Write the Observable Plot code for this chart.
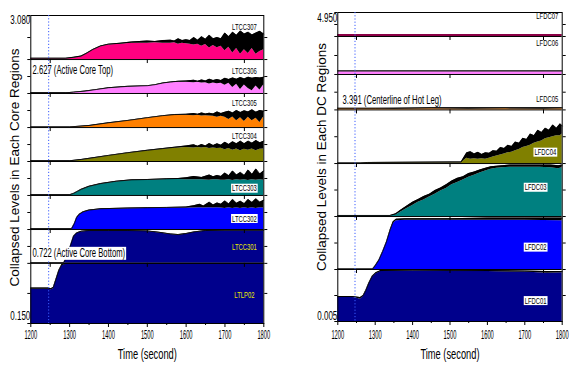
<!DOCTYPE html>
<html><head><meta charset="utf-8">
<script src="https://cdn.jsdelivr.net/npm/d3@7"></script>
<script src="https://cdn.jsdelivr.net/npm/@observablehq/plot@0.6"></script>
<style>
body{margin:0;background:#fff;}
#chart{display:flex;width:570px;height:367px;background:#fff;}
</style></head><body><div id="chart"></div>
<script>
// ---------------- DATA ----------------
const timeTicks = [1200, 1300, 1400, 1500, 1600, 1700, 1800];
const minorTimeTicks = [1250, 1350, 1450, 1550, 1650, 1750];
const stripTickTimes = [1250, 1500, 1750];
const markerTime = 1246;

// Core side: regions bottom -> top, elevation boundaries (m)
const coreNames = ["LTLP02", "LTCC301", "LTCC302", "LTCC303", "LTCC304", "LTCC305", "LTCC306", "LTCC307"];
const coreBounds = [0.150, 0.722, 1.044, 1.368, 1.691, 2.014, 2.338, 2.661, 3.080];
const coreYLabels = [0.150, 3.080];

// rows: [time (s), lower envelope, upper envelope] as fraction of region height
const LTLP02 = [[1200,.57,.59],[1245,.57,.59],[1252,.56,.58],[1258,.58,.60],[1265,.72,.74],[1272,.86,.88],[1280,.96,.98],[1290,.985,1],[1800,.985,1]];
const LTCC301 = [[1200,0,.02],[1285,0,.02],[1295,.25,.27],[1302,.50,.52],[1310,.78,.80],[1318,.88,.90],[1330,.93,.95],[1350,.95,.97],[1400,.95,.97],[1450,.95,.97],[1500,.94,.96],[1530,.90,.92],[1560,.85,.87],[1580,.83,.85],[1600,.86,.88],[1620,.91,.93],[1650,.95,.97],[1700,.96,.98],[1750,.96,.98],[1800,.96,.98]];
const LTCC302 = [[1200,0,.02],[1305,0,.02],[1312,.15,.17],[1318,.33,.35],[1325,.43,.45],[1335,.50,.52],[1350,.55,.57],[1380,.59,.61],[1450,.61,.63],[1500,.62,.64],[1550,.63,.65],[1600,.63,.66],[1620,.63,.70],[1635,.64,.74],[1645,.63,.69],[1660,.64,.80],[1670,.63,.72],[1680,.64,.78],[1690,.63,.74],[1700,.62,.84],[1710,.64,.75],[1720,.62,.88],[1730,.64,.77],[1740,.62,.83],[1750,.64,.76],[1760,.62,.88],[1770,.64,.79],[1780,.62,.90],[1790,.64,.80],[1800,.63,.86]];
const LTCC303 = [[1200,0,.02],[1300,0,.02],[1310,.04,.06],[1320,.10,.12],[1330,.16,.18],[1350,.25,.27],[1380,.33,.35],[1420,.40,.42],[1460,.44,.46],[1500,.45,.47],[1550,.47,.49],[1580,.47,.50],[1600,.46,.52],[1620,.46,.56],[1640,.46,.53],[1660,.45,.60],[1670,.46,.55],[1680,.46,.59],[1690,.45,.56],[1700,.45,.66],[1710,.46,.58],[1720,.44,.72],[1730,.46,.60],[1740,.45,.68],[1750,.46,.59],[1760,.44,.75],[1770,.46,.62],[1780,.45,.78],[1790,.46,.63],[1800,.45,.72]];
const LTCC304 = [[1200,0,.02],[1300,0,.02],[1330,.04,.06],[1360,.09,.11],[1400,.16,.18],[1450,.24,.26],[1500,.31,.33],[1540,.36,.38],[1570,.39,.42],[1600,.41,.46],[1620,.40,.49],[1630,.41,.45],[1640,.40,.50],[1650,.41,.46],[1660,.38,.53],[1670,.40,.47],[1680,.38,.52],[1690,.39,.48],[1700,.35,.57],[1710,.38,.50],[1720,.33,.58],[1730,.37,.52],[1740,.32,.60],[1750,.36,.52],[1760,.33,.60],[1770,.37,.54],[1780,.32,.62],[1790,.36,.55],[1800,.37,.60]];
const LTCC305 = [[1200,0,.02],[1300,0,.02],[1350,.04,.06],[1400,.12,.14],[1450,.19,.21],[1500,.27,.29],[1540,.33,.35],[1570,.36,.38],[1600,.36,.39],[1620,.35,.41],[1630,.36,.39],[1640,.34,.43],[1650,.35,.40],[1660,.34,.42],[1670,.33,.40],[1680,.30,.46],[1690,.33,.41],[1700,.30,.45],[1710,.24,.48],[1720,.31,.43],[1730,.20,.50],[1740,.29,.44],[1750,.18,.49],[1760,.30,.46],[1770,.20,.52],[1780,.27,.45],[1790,.15,.50],[1800,.32,.48]];
const LTCC306 = [[1200,0,.02],[1290,0,.02],[1310,.02,.04],[1340,.05,.07],[1370,.10,.12],[1400,.15,.17],[1450,.19,.21],[1500,.21,.23],[1520,.24,.26],[1540,.29,.31],[1560,.32,.34],[1580,.33,.36],[1600,.33,.37],[1620,.32,.39],[1630,.33,.36],[1640,.31,.40],[1650,.32,.37],[1660,.28,.42],[1670,.31,.38],[1680,.29,.41],[1690,.30,.38],[1700,.24,.45],[1710,.30,.41],[1720,.18,.46],[1730,.27,.42],[1740,.12,.47],[1750,.25,.43],[1760,.15,.48],[1770,.08,.45],[1780,.22,.47],[1790,.10,.46],[1800,.26,.48]];
const LTCC307 = [[1200,.01,.03],[1290,.01,.03],[1310,.03,.05],[1330,.06,.08],[1345,.13,.15],[1360,.21,.23],[1380,.29,.31],[1400,.33,.35],[1430,.35,.37],[1460,.37,.40],[1480,.37,.41],[1500,.37,.42],[1520,.38,.41],[1540,.37,.43],[1560,.37,.44],[1570,.38,.42],[1580,.35,.47],[1590,.37,.43],[1600,.36,.45],[1610,.35,.43],[1620,.33,.50],[1630,.35,.44],[1640,.30,.52],[1650,.34,.46],[1660,.26,.55],[1670,.32,.47],[1680,.27,.50],[1690,.30,.47],[1700,.20,.60],[1710,.28,.52],[1720,.15,.62],[1730,.25,.55],[1740,.12,.65],[1750,.22,.58],[1760,.14,.62],[1770,.25,.56],[1780,.12,.60],[1790,.18,.64],[1800,.22,.58]];

// Downcomer side
const dcNames = ["LFDC01", "LFDC02", "LFDC03", "LFDC04", "LFDC05", "LFDC06", "LFDC07"];
const dcBounds = [0.005, 0.837, 1.685, 2.533, 3.391, 3.958, 4.566, 4.950];
const dcYLabels = [0.005, 4.950];

const LFDC01 = [[1200,.46,.48],[1240,.46,.48],[1250,.45,.47],[1260,.43,.46],[1268,.48,.50],[1275,.58,.60],[1283,.72,.74],[1292,.85,.87],[1302,.92,.94],[1315,.96,.98],[1400,.97,.99],[1500,.97,.98],[1600,.96,.98],[1700,.95,.97],[1760,.93,.96],[1800,.94,.96]];
const LFDC02 = [[1200,0,.01],[1293,0,.01],[1300,.05,.07],[1310,.16,.18],[1320,.32,.34],[1330,.50,.52],[1340,.72,.75],[1348,.87,.90],[1356,.92,.95],[1380,.93,.96],[1500,.93,.96],[1600,.93,.97],[1700,.93,.97],[1800,.92,.97]];
const LFDC03 = [[1200,.01,.02],[1340,.01,.02],[1355,.03,.05],[1370,.09,.13],[1385,.15,.20],[1400,.21,.27],[1415,.27,.32],[1430,.31,.38],[1445,.37,.42],[1460,.42,.49],[1475,.48,.54],[1490,.53,.60],[1505,.60,.67],[1520,.64,.72],[1535,.69,.75],[1550,.74,.81],[1565,.78,.84],[1580,.82,.88],[1595,.86,.91],[1610,.89,.94],[1625,.91,.95],[1640,.92,.96],[1660,.93,.97],[1700,.93,.97],[1740,.93,.97],[1770,.92,.97],[1790,.90,.96],[1800,.92,.97]];
const LFDC04 = [[1200,0,.01],[1260,0,.01],[1280,.01,.02],[1500,.01,.03],[1530,.01,.03],[1538,.06,.12],[1545,.10,.20],[1555,.08,.22],[1565,.09,.18],[1575,.08,.21],[1585,.09,.17],[1595,.08,.20],[1605,.10,.19],[1615,.12,.24],[1625,.14,.23],[1635,.16,.30],[1645,.18,.28],[1655,.20,.34],[1665,.21,.32],[1675,.24,.40],[1685,.26,.38],[1695,.30,.47],[1705,.32,.45],[1715,.34,.55],[1725,.38,.52],[1735,.40,.62],[1745,.42,.58],[1755,.46,.66],[1765,.48,.62],[1775,.50,.72],[1785,.52,.66],[1795,.52,.74],[1800,.55,.70]];
const LFDC05 = [[1200,.03,.045],[1300,.03,.045],[1350,.02,.05],[1450,.03,.06],[1550,.02,.06],[1650,.03,.06],[1750,.02,.06],[1800,.03,.06]];
const LFDC06 = [[1200,.075,.095],[1800,.075,.095]];
const LFDC07 = [[1200,.08,.08],[1800,.08,.08]];

// annotations
const coreNotes = [
  {t: 1204.4, y: 2.557, text: "2.627 (Active Core Top)", boxed: false},
  {t: 1204.4, y: 0.816, text: "0.722 (Active Core Bottom)", boxed: true}
];
const dcNotes = [
  {t: 1212.6, y: 3.542, text: "3.391 (Centerline of Hot Leg)", boxed: false}
];

// ---------------- STYLE / LAYOUT ----------------
const coreColors = ["#00008c", "#00008c", "#0000ff", "#008080", "#808000", "#ff8000", "#ff80ff", "#ff0080"];
const dcColors = ["#00008c", "#0000ff", "#008080", "#808000", "#ff8000", "#ff80ff", "#8c0046"];
const W = 285, H = 367;
const FONT = "'Liberation Sans', Arial, Helvetica, sans-serif";

function buildPanel(cfg) {
  const {names, bounds, series, colors, ml, mr, mt, mb} = cfg;
  const yDomain = [bounds[0], bounds[bounds.length - 1]];
  const k = (yDomain[1] - yDomain[0]) / (H - mt - mb); // data units per pixel
  const rows = [];
  names.forEach((n, i) => {
    const b0 = bounds[i], h = bounds[i + 1] - b0;
    series[i].forEach(([t, lo, hi]) => rows.push({name: n, t, base: b0, lo: b0 + lo * h, hi: b0 + hi * h}));
  });
  const edged = rows.filter(d => d.name !== cfg.noEdge);
  const inner = bounds.slice(1, -1);
  const mids = names.map((n, i) => (bounds[i] + bounds[i + 1]) / 2);
  const stripTicks = inner.flatMap(b => stripTickTimes.map(t => ({t, b})));
  const labels = names.map((n, i) => ({
    name: n, t: cfg.labelT[i],
    y: bounds[i] + cfg.labelF[i] * (bounds[i + 1] - bounds[i]),
    kind: cfg.labelKind[i]
  }));
  const fmt = d3.format(".3f");
  return Plot.plot({
    width: W, height: H,
    marginTop: mt, marginBottom: mb, marginLeft: ml, marginRight: mr,
    x: {domain: [1200, 1800]},
    y: {domain: yDomain},
    color: {domain: names, range: colors},
    style: {fontFamily: FONT, background: "white", overflow: "visible", color: "black"},
    marks: [
      Plot.areaY(rows, {x: "t", y1: "base", y2: "lo", z: "name", fill: "name", curve: "linear"}),
      Plot.areaY(edged, {x: "t", y1: "lo", y2: "hi", z: "name", fill: "black", curve: "linear"}),
      Plot.line(edged, {x: "t", y: "hi", z: "name", stroke: "black", strokeWidth: 0.8}),
      Plot.ruleY(inner, {stroke: "black", strokeWidth: 1}),
      Plot.ruleX(stripTicks, {x: "t", y1: "b", y2: d => d.b - 4 * k, stroke: "black"}),
      Plot.frame({stroke: "black"}),
      Plot.axisX({ticks: timeTicks, tickSize: 4, tickFormat: () => "", label: null}),
      Plot.axisX({ticks: minorTimeTicks, tickSize: 2, tickFormat: () => "", label: null}),
      Plot.axisY({ticks: [...bounds, ...mids], tickSize: 3, tickFormat: () => "", label: null}),
      Plot.axisY({anchor: "right", ticks: [...inner, ...mids], tickSize: 3, tickFormat: () => "", label: null}),
      Plot.ruleX([markerTime], {stroke: "#3a5cff", strokeDasharray: "1.2,2", strokeWidth: 1}),
      Plot.text(timeTicks, {x: d => d, frameAnchor: "bottom", text: d => String(d), dy: cfg.xLabDy, fontSize: 12.5, fill: "black", ariaDescription: "xticks"}),
      Plot.text([cfg.yLabels[1]], {frameAnchor: "left", y: d => d, text: d => fmt(d), textAnchor: "end", dx: -0.5, dy: cfg.topDy, fontSize: 12.5, ariaDescription: "yvals"}),
      Plot.text([cfg.yLabels[0]], {frameAnchor: "left", y: d => d, text: d => fmt(d), textAnchor: "end", dx: -0.5, dy: cfg.botDy, fontSize: 12.5, ariaDescription: "yvals"}),
      Plot.text(labels.filter(d => d.kind === "plain"), {x: "t", y: "y", text: "name", fontSize: 9, fill: "black", ariaDescription: "slabels"}),
      Plot.text(labels.filter(d => d.kind === "yellow"), {x: "t", y: "y", text: "name", fontSize: 9, fill: "#e8e800", ariaDescription: "slabels"}),
      Plot.text(labels.filter(d => d.kind === "boxed"), {x: "t", y: "y", text: "name", fontSize: 9, fill: "black", ariaDescription: "boxed-slabels"}),
      Plot.text(cfg.notes.filter(d => !d.boxed), {x: "t", y: "y", text: "text", textAnchor: "start", fontSize: 12, fill: "black", ariaDescription: "notes"}),
      Plot.text(cfg.notes.filter(d => d.boxed), {x: "t", y: "y", text: "text", textAnchor: "start", fontSize: 12, fill: "black", ariaDescription: "boxed-notes"}),
      Plot.text([cfg.title], {text: d => d, frameAnchor: "left", rotate: -90, dx: -16.5, dy: cfg.titleDy, fontSize: 13.5, textAnchor: "middle", fill: "black", fontFamily: "Arial, 'Liberation Sans', sans-serif"}),
      Plot.text(["Time (second)"], {text: d => d, frameAnchor: "bottom", dy: cfg.xLabDy + 20, fontSize: 15, textAnchor: "middle", fill: "black", ariaDescription: "xtitle"})
    ]
  });
}

const left = buildPanel({
  names: coreNames, bounds: coreBounds, colors: coreColors,
  series: [LTLP02, LTCC301, LTCC302, LTCC303, LTCC304, LTCC305, LTCC306, LTCC307],
  ml: 30.3, mr: 21.7, mt: 15, mb: 44, xLabDy: 15,
  yLabels: coreYLabels, topDy: 4, botDy: -8,
  labelT: [1750, 1750, 1750, 1750, 1750, 1750, 1750, 1750],
  labelF: [.48, .47, .32, .21, .74, .71, .65, .73],
  labelKind: ["yellow", "yellow", "boxed", "boxed", "plain", "plain", "plain", "plain"],
  notes: coreNotes, title: "Collapsed Levels in Each Core Regions", titleDy: -2
});
const right = buildPanel({
  names: dcNames, bounds: dcBounds, colors: dcColors,
  series: [LFDC01, LFDC02, LFDC03, LFDC04, LFDC05, LFDC06, LFDC07],
  ml: 52.3, mr: 8.3, mt: 12, mb: 46, noEdge: "LFDC07", xLabDy: 17,
  yLabels: dcYLabels, topDy: 5, botDy: -6,
  labelT: [1729, 1729, 1729, 1755, 1760, 1760, 1760],
  labelF: [.40, .42, .55, .21, .31, .82, .83],
  labelKind: ["boxed", "boxed", "boxed", "boxed", "plain", "plain", "plain"],
  notes: dcNotes, title: "Collapsed Levels in Each DC Regions", titleDy: -10
});

const host = document.getElementById("chart");
host.appendChild(left);
host.appendChild(right);

// condensed lettering like the original, and white boxes behind boxed labels
const ratios = {"xticks": 0.46, "yvals": 0.64, "xtitle": 0.62, "slabels": 0.65, "boxed-slabels": 0.65, "notes": 0.64, "boxed-notes": 0.64};
function squeeze(el, r) {
  const L = el.getComputedTextLength();
  if (L > 0) {
    el.setAttribute("textLength", (L * r).toFixed(2));
    el.setAttribute("lengthAdjust", "spacingAndGlyphs");
  }
}
for (const svg of [left, right]) {
  svg.querySelectorAll("g").forEach(g => {
    const key = g.getAttribute("aria-description");
    const r = ratios[key];
    if (!r) return;
    g.querySelectorAll("text").forEach(el => squeeze(el, r));
    if (key.startsWith("boxed")) {
      g.querySelectorAll("text").forEach(el => {
        const bb = el.getBBox();
        const rect = document.createElementNS("http://www.w3.org/2000/svg", "rect");
        rect.setAttribute("x", bb.x - 1);
        rect.setAttribute("y", bb.y + 0.5);
        rect.setAttribute("width", bb.width + 2);
        rect.setAttribute("height", bb.height - 1);
        rect.setAttribute("fill", "white");
        rect.setAttribute("stroke", "none");
        const tr = el.getAttribute("transform");
        if (tr) rect.setAttribute("transform", tr);
        el.parentNode.insertBefore(rect, el);
      });
    }
  });
}
</script>
</body></html>
